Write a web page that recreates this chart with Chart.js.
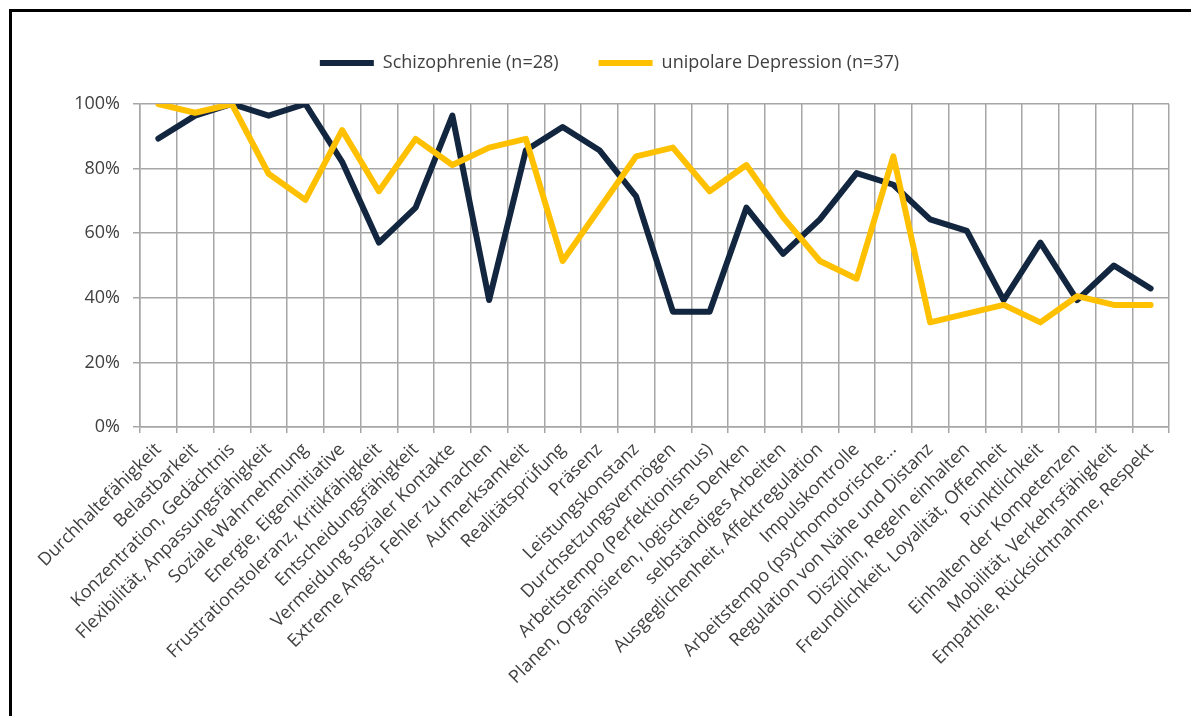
<!DOCTYPE html>
<html>
<head>
<meta charset="utf-8">
<script src="https://cdn.jsdelivr.net/npm/chart.js@4/dist/chart.umd.min.js"></script>
<style>
  body { margin: 0; background: #fff; overflow: hidden; }
  #wrap { position: relative; width: 1191px; height: 716px; overflow: hidden; }
  #frame {
    position: absolute; left: 9px; top: 9px; width: 1300px; height: 800px;
    border-left: 3px solid #000; border-top: 3px solid #000;
  }
  #chartCanvas { position: absolute; left: 0; top: 0; }
</style>
</head>
<body>
<div id="wrap">
  <div id="frame"></div>
  <canvas id="chartCanvas" width="1191" height="716"></canvas>
</div>
<script>

// Kategorien (x-Achse)
var categories = [
  'Durchhaltefähigkeit',
  'Belastbarkeit',
  'Konzentration, Gedächtnis',
  'Flexibilität, Anpassungsfähigkeit',
  'Soziale Wahrnehmung',
  'Energie, Eigeninitiative',
  'Frustrationstoleranz, Kritikfähigkeit',
  'Entscheidungsfähigkeit',
  'Vermeidung sozialer Kontakte',
  'Extreme Angst, Fehler zu machen',
  'Aufmerksamkeit',
  'Realitätsprüfung',
  'Präsenz',
  'Leistungskonstanz',
  'Durchsetzungsvermögen',
  'Arbeitstempo (Perfektionismus)',
  'Planen, Organisieren, logisches Denken',
  'selbständiges Arbeiten',
  'Ausgeglichenheit, Affektregulation',
  'Impulskontrolle',
  'Arbeitstempo (psychomotorische...',
  'Regulation von Nähe und Distanz',
  'Disziplin, Regeln einhalten',
  'Freundlichkeit, Loyalität, Offenheit',
  'Pünktlichkeit',
  'Einhalten der Kompetenzen',
  'Mobilität, Verkehrsfähigkeit',
  'Empathie, Rücksichtnahme, Respekt'
];

// Werte in Prozent
var schizophrenie = [89.3, 96.4, 100, 96.4, 100, 82.1, 57.1, 67.9, 96.4, 39.3,
  85.7, 92.9, 85.7, 71.4, 35.7, 35.7, 67.9, 53.6, 64.3, 78.6,
  75.0, 64.3, 60.7, 39.3, 57.1, 39.3, 50.0, 42.9];

var depression = [100, 97.3, 100, 78.4, 70.3, 91.9, 73.0, 89.2, 81.1, 86.5,
  89.2, 51.4, 67.6, 83.8, 86.5, 73.0, 81.1, 64.9, 51.4, 45.9,
  83.8, 32.4, 35.1, 37.8, 32.4, 40.5, 37.8, 37.8];

var seriesNames = ['Schizophrenie (n=28)', 'unipolare Depression (n=37)'];

// y-Achse: 0% .. 100%, Schritt 20
var yMin = 0;
var yMax = 100;
var yStep = 20;

function init() {

  var textColor = '#404040';
  var gridColor = '#a6a6a6';
  var font = { family: "'Open Sans', sans-serif", size: 18 };

  var ctx = document.getElementById('chartCanvas').getContext('2d');
  var chart = new Chart(ctx, {
    type: 'line',
    data: {
      labels: categories,
      datasets: [{
        label: seriesNames[0],
        data: schizophrenie,
        borderColor: '#132640',
        backgroundColor: '#132640',
        borderWidth: 6,
        borderCapStyle: 'round',
        borderJoinStyle: 'round',
        pointRadius: 0,
        tension: 0,
        order: 2
      }, {
        label: seriesNames[1],
        data: depression,
        borderColor: '#ffc000',
        backgroundColor: '#ffc000',
        borderWidth: 6,
        borderCapStyle: 'round',
        borderJoinStyle: 'round',
        pointRadius: 0,
        tension: 0,
        order: 1   // gelb liegt oben
      }]
    },
    options: {
      responsive: false,
      animation: false,
      layout: { padding: { left: 50, right: 22, top: 14, bottom: 0 } },
      plugins: {
        tooltip: { enabled: false },
        legend: {
          position: 'top',
          labels: {
            usePointStyle: true,
            pointStyle: 'line',
            pointStyleWidth: 54,
            padding: 40,
            color: textColor,
            font: font,
            sort: function(a, b) { return a.datasetIndex - b.datasetIndex; }
          }
        }
      },
      scales: {
        x: {
          offset: true,
          grid: { offset: true, color: gridColor, lineWidth: 1.5, tickLength: 6 },
          border: { color: gridColor, width: 1.5 },
          ticks: {
            autoSkip: false,
            minRotation: 45,
            maxRotation: 45,
            padding: 6,
            color: textColor,
            font: font
          },
          afterFit: function(scale) { scale.height = 289; }
        },
        // leere Achse oben, nur als Abstand zwischen Legende und Diagramm
        xTop: {
          type: 'category',
          position: 'top',
          grid: { display: false },
          border: { display: false },
          ticks: { display: false },
          afterFit: function(scale) { scale.height = 22; }
        },
        y: {
          min: yMin,
          max: yMax,
          grid: { color: gridColor, lineWidth: 1.5, tickLength: 7 },
          border: { color: gridColor, width: 1.5 },
          ticks: {
            stepSize: yStep,
            padding: 13,
            color: textColor,
            font: font,
            callback: function(value) { return value + '%'; }
          },
          afterFit: function(scale) { scale.width = 90; }
        }
      }
    }
  });
}

init();

</script>
</body>
</html>
